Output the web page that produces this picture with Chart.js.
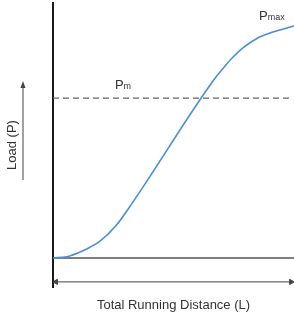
<!DOCTYPE html>
<html>
<head>
<meta charset="utf-8">
<script src="https://cdn.jsdelivr.net/npm/chart.js@4"></script>
<style>
  html, body { margin: 0; padding: 0; background: #fff; }
  #wrap { width: 294px; height: 318px; }
</style>
</head>
<body>
<div id="wrap"><canvas id="chart"></canvas></div>
<script>
// load curve (distance 0-100, load 0-100)
let distance = [0, 5.8, 12.4, 19.5, 26, 33, 67, 71.4, 74.7, 78.8, 84.6, 91.3, 100];
let load = [0, 0.5, 2.8, 6.6, 12.5, 21.7, 70.2, 75.3, 78.8, 82.4, 86.1, 88.6, 91];
let pmLevel = 62.7;
let xTitle = "Total Running Distance (L)";
let yTitle = "Load (P)";

const FONT = "'Liberation Sans', Arial, sans-serif";
const TEXT = "#333";

const curve = distance.map((d, i) => ({ x: d, y: load[i] }));

// labels Pm / Pmax with small subscript, plus the arrow next to the y title
const extras = {
  id: "extras",
  afterDraw(chart) {
    const { ctx, chartArea, scales: { x, y } } = chart;
    ctx.save();
    ctx.fillStyle = TEXT;
    ctx.textBaseline = "alphabetic";
    const sub = (main, small, px, py) => {
      ctx.font = "13px " + FONT;
      ctx.fillText(main, px, py);
      const w = ctx.measureText(main).width;
      ctx.font = "9px " + FONT;
      ctx.fillText(small, px + w, py);
    };
    sub("P", "m", x.getPixelForValue(25.7), y.getPixelForValue(66.3));
    sub("P", "max", x.getPixelForValue(85.5), y.getPixelForValue(93.3));

    // arrow beside "Load (P)"
    const ax = chartArea.left - 30;
    const mid = (chartArea.top + chartArea.bottom) / 2;
    ctx.strokeStyle = "#444";
    ctx.fillStyle = "#444";
    ctx.lineWidth = 1;
    ctx.beginPath();
    ctx.moveTo(ax, mid + 35);
    ctx.lineTo(ax, mid - 60);
    ctx.stroke();
    ctx.beginPath();
    ctx.moveTo(ax, mid - 64);
    ctx.lineTo(ax - 2.5, mid - 57);
    ctx.lineTo(ax + 2.5, mid - 57);
    ctx.closePath();
    ctx.fill();
    ctx.restore();
  }
};

new Chart(document.getElementById("chart"), {
  type: "scatter",
  data: {
    datasets: [
      {
        data: curve,
        showLine: true,
        borderColor: "#4a8fcf",
        borderWidth: 1.6,
        pointRadius: 0,
        cubicInterpolationMode: "monotone"
      },
      {
        data: [{ x: 0, y: pmLevel }, { x: 99, y: pmLevel }],
        showLine: true,
        borderColor: "#666",
        borderWidth: 1.4,
        borderDash: [6, 4],
        pointRadius: 0
      },
      {
        data: [{ x: 0, y: 0 }, { x: 100, y: 0 }],
        showLine: true,
        borderColor: "#555",
        borderWidth: 1.4,
        pointRadius: 0
      },
      {
        data: [{ x: 1.2, y: -9.4 }, { x: 98.8, y: -9.4 }],
        showLine: true,
        borderColor: "#444",
        backgroundColor: "#444",
        borderWidth: 1,
        pointStyle: "triangle",
        pointRadius: 3,
        pointRotation: [-90, 90]
      }
    ]
  },
  options: {
    responsive: true,
    maintainAspectRatio: false,
    animation: false,
    events: [],
    layout: { autoPadding: false, padding: { top: 3, right: 0, left: 0, bottom: 0 } },
    plugins: { legend: { display: false }, tooltip: { enabled: false } },
    scales: {
      x: {
        type: "linear",
        min: 0,
        max: 100,
        grid: { display: false },
        border: { display: false },
        ticks: { display: false },
        title: {
          display: true,
          text: xTitle,
          color: TEXT,
          font: { family: FONT, size: 13 },
          padding: { top: 0, bottom: 5 }
        },
        afterFit(s) { s.height = 31; }
      },
      y: {
        min: -11.4,
        max: 100,
        grid: { display: false },
        border: { display: true, color: "#1a1a1a", width: 2 },
        ticks: { display: false },
        title: {
          display: true,
          text: yTitle,
          color: TEXT,
          font: { family: FONT, size: 13 },
          padding: { top: 5, bottom: 0 }
        },
        afterFit(s) { s.width = 53; }
      }
    }
  },
  plugins: [extras]
});
</script>
</body>
</html>
